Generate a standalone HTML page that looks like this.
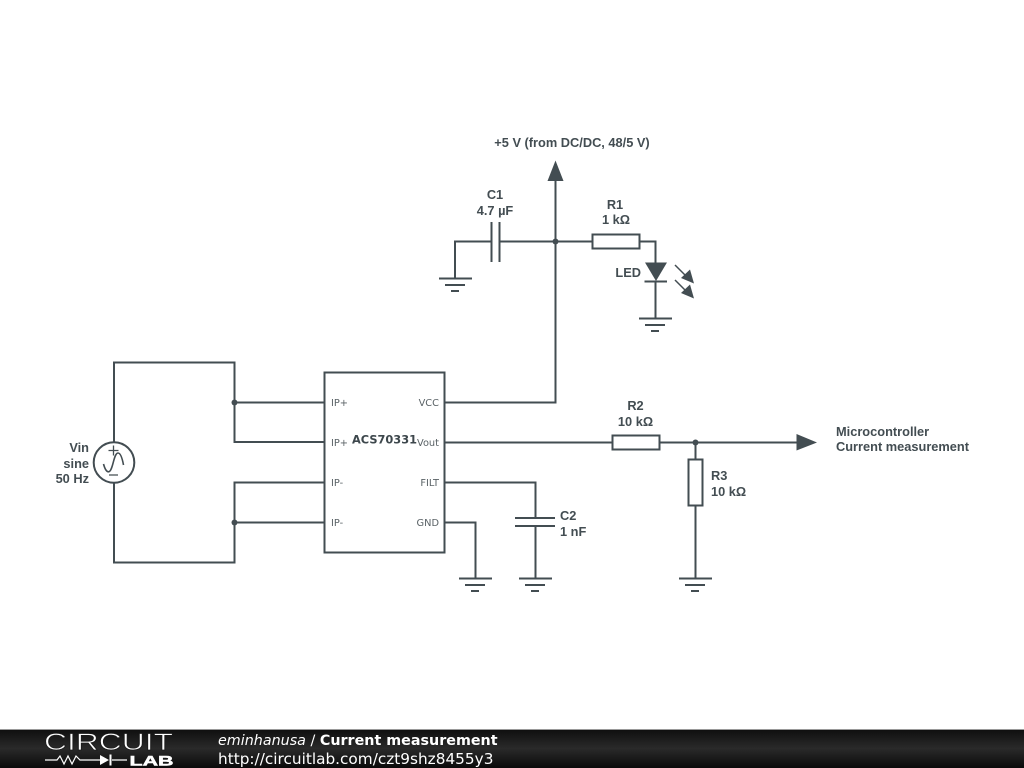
<!DOCTYPE html>
<html>
<head>
<meta charset="utf-8">
<style>
html,body{margin:0;padding:0;background:#fff;width:1024px;height:768px;overflow:hidden}
svg{display:block;position:absolute;left:0;top:0;filter:blur(.35px)}
.l{font-family:"Liberation Sans",sans-serif;font-size:12.8px;font-weight:bold;fill:#434d52}
.p{font-family:"DejaVu Sans",sans-serif;font-size:9.800px;fill:#5a6266}
</style>
</head>
<body>
<svg width="1024" height="768" viewBox="0 0 1024 768" xmlns="http://www.w3.org/2000/svg">
<defs>
<linearGradient id="bar" x1="0" y1="0" x2="0" y2="1">
<stop offset="0" stop-color="#0e0e0e"/>
<stop offset="0.5" stop-color="#2a2a2a"/>
<stop offset="1" stop-color="#0a0a0a"/>
</linearGradient>
</defs>
<g fill="none" stroke="#434d52" stroke-width="2">
<!-- source loop -->
<path d="M114 442V362.500H234.500V442H324"/>
<path d="M234 402.500H324"/>
<path d="M114 483V562.500H234.500V482.500H324"/>
<path d="M234 522.500H324"/>
<circle cx="114" cy="462.500" r="20.300"/>
<path d="M103.500 464C105 469.500 106.500 471.800 108.500 471.800C113 471.800 113.500 453 118 453C120.500 453 122.300 458.500 123.500 465" stroke-width="1.600"/>
<path d="M108.500 450.500H118.500M113.500 445.500V455.500M109 475H118" stroke-width="1.300"/>
<!-- IC -->
<rect x="324.500" y="372.500" width="120" height="180"/>
<path d="M445 402.500H555.500V170"/>
<path d="M445 442.500H612"/>
<path d="M659 442.500H800"/>
<path d="M445 482.500H535.500V518"/>
<path d="M445 522.500H475.500V578"/>
<!-- C2 -->
<path d="M515 518H555M515 526H555"/>
<path d="M535.500 526V578"/>
<!-- grounds -->
<path d="M459 578.500H492M465 585H485M471 591H479"/>
<path d="M519 578.500H552M525 585H545M531 591H539"/>
<path d="M679 578.500H712M685 585H705M691 591H699"/>
<path d="M439 278.500H472M445 285H465M451 291H459"/>
<path d="M639 318.500H672M645 325H665M651 331H659"/>
<!-- R2 -->
<rect x="612.500" y="435.500" width="47" height="14"/>
<!-- R3 -->
<path d="M695.500 442V459M695.500 506V578"/>
<rect x="688.500" y="459.500" width="14" height="46"/>
<!-- C1 -->
<path d="M455 278V241.500H491M499 241.500H592"/>
<path d="M491.500 222V262M499.500 222V262"/>
<!-- R1 -->
<rect x="592.500" y="234.500" width="47" height="14"/>
<path d="M639 241.500H655.500V264M655.500 282V318"/>
<path d="M644.500 281.500H667"/>
<!-- LED rays -->
<path d="M675 265L688 278M675 280L688 293" stroke-width="1.500"/>
</g>
<g fill="#434d52" stroke="none">
<path d="M555.500 160.500L547.500 181H563.500Z"/>
<path d="M645 262.500H667L656 281Z"/>
<path d="M817 442.500L796.500 434V450.500Z"/>
<path d="M694 283.500L690 269.500L681 278Z"/>
<path d="M694 298.500L690 284.500L681 293Z"/>
<circle cx="555.500" cy="241.500" r="3"/>
<circle cx="234.500" cy="402.500" r="3"/>
<circle cx="234.500" cy="522.500" r="3"/>
<circle cx="695.500" cy="442.500" r="3"/>
</g>
<!-- labels -->
<text class="l" x="572" y="147" text-anchor="middle">+5 V (from DC/DC, 48/5 V)</text>
<text class="l" x="495" y="199" text-anchor="middle">C1</text>
<text class="l" x="495" y="215" text-anchor="middle">4.7 µF</text>
<text class="l" x="615" y="209" text-anchor="middle">R1</text>
<text class="l" x="616" y="224" text-anchor="middle">1 kΩ</text>
<text class="l" x="641" y="277" text-anchor="end">LED</text>
<text class="l" x="89" y="452" text-anchor="end">Vin</text>
<text class="l" x="89" y="468" text-anchor="end">sine</text>
<text class="l" x="89" y="483" text-anchor="end">50 Hz</text>
<text class="l" x="635.500" y="410" text-anchor="middle">R2</text>
<text class="l" x="635.500" y="426" text-anchor="middle">10 kΩ</text>
<text class="l" x="711" y="480">R3</text>
<text class="l" x="711" y="496">10 kΩ</text>
<text class="l" x="560" y="520">C2</text>
<text class="l" x="560" y="536">1 nF</text>
<text class="l" x="836" y="436">Microcontroller</text>
<text class="l" x="836" y="451">Current measurement</text>
<text class="p" x="331" y="406">IP+</text>
<text class="p" x="331" y="446">IP+</text>
<text class="p" x="331" y="486">IP-</text>
<text class="p" x="331" y="526">IP-</text>
<text class="p" x="439" y="406" text-anchor="end">VCC</text>
<text class="p" x="439" y="446" text-anchor="end">Vout</text>
<text class="p" x="439" y="486" text-anchor="end">FILT</text>
<text class="p" x="439" y="526" text-anchor="end">GND</text>
<text x="352" y="443.500" font-family="'DejaVu Sans',sans-serif" font-size="11.400" font-weight="bold" fill="#3d474c" textLength="65" lengthAdjust="spacingAndGlyphs">ACS70331</text>
<!-- footer -->
<rect x="0" y="729" width="1024" height="39" fill="url(#bar)"/>
<rect x="0" y="729" width="1024" height="1" fill="#999"/>
<text x="44" y="750" font-family="'Liberation Sans',sans-serif" font-size="24" fill="#fff" stroke="#1c1c1c" stroke-width="0.700" textLength="129" lengthAdjust="spacingAndGlyphs">CIRCUIT</text>
<path d="M45 760H57L60 756L64 764L68 756L72 764L76 756L80 760H100M112 760H127" fill="none" stroke="#fff" stroke-width="1.200"/>
<path d="M100 755V765L109 760Z M109.500 754.500H111.500V765.500H109.500Z" fill="#fff"/>
<text x="129.500" y="765.500" font-family="'Liberation Sans',sans-serif" font-size="13.500" font-weight="bold" fill="#fff" stroke="#fff" stroke-width="0.500" textLength="44" lengthAdjust="spacingAndGlyphs">LAB</text>
<text x="218" y="745" font-family="'DejaVu Sans',sans-serif" font-size="14.300" fill="#fff"><tspan font-style="italic">eminhanusa</tspan> / <tspan font-weight="bold">Current measurement</tspan></text>
<text x="218" y="764" font-family="'DejaVu Sans',sans-serif" font-size="15.300" fill="#fff">http://circuitlab.com/czt9shz8455y3</text>
</svg>
</body>
</html>
